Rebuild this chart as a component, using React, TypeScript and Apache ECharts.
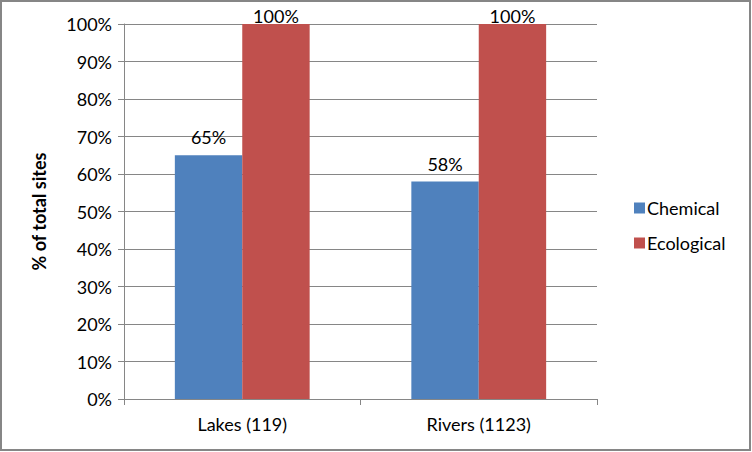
import React, { useEffect, useRef } from "react";
import * as echarts from "echarts";

const categories = ["Lakes (119)", "Rivers (1123)"];
const chemical = [65, 58];
const ecological = [100, 100];
const seriesNames = ["Chemical", "Ecological"];
const yTicks = [0, 10, 20, 30, 40, 50, 60, 70, 80, 90, 100];

const FONT = "Lato";
const FS = 18;

export default function App() {
  const ref = useRef<HTMLDivElement>(null);
  useEffect(() => {
    document.body.style.margin = "0";
    const chart = echarts.init(ref.current!, null, { renderer: "svg" });
    const labelStyle = {
      show: true,
      position: "top" as const,
      formatter: "{c}%",
      color: "#000",
      fontFamily: FONT,
      fontSize: FS,
      distance: 9,
    };
    chart.setOption({
      animation: false,
      backgroundColor: "#fff",
      textStyle: { fontFamily: FONT },
      grid: { left: 124, right: 155, top: 24, bottom: 53 },
      legend: {
        orient: "vertical",
        left: 629,
        top: 194,
        itemWidth: 11,
        itemHeight: 11,
        itemGap: 17,
        icon: "rect",
        data: seriesNames,
        textStyle: { fontFamily: FONT, fontSize: FS, color: "#000", padding: [0, 0, 0, -3] },
      },
      xAxis: {
        type: "category",
        data: categories,
        axisLine: { lineStyle: { color: "#868686", width: 1 } },
        axisTick: { show: true, length: 6, lineStyle: { color: "#868686" } },
        axisLabel: { fontFamily: FONT, fontSize: FS, color: "#000", margin: 16 },
      },
      yAxis: {
        type: "value",
        min: 0,
        max: 100,
        interval: 10,
        name: "% of total sites",
        nameLocation: "middle",
        nameGap: 76,
        nameTextStyle: { fontFamily: FONT, fontSize: FS, fontWeight: "bold", color: "#000" },
        axisLine: { show: true, lineStyle: { color: "#868686" } },
        axisTick: { show: true, length: 6, lineStyle: { color: "#868686" } },
        splitLine: { lineStyle: { color: "#868686" } },
        axisLabel: {
          fontFamily: FONT,
          fontSize: FS,
          color: "#000",
          margin: 12,
          formatter: (v: number) => (yTicks.includes(v) ? v + "%" : ""),
        },
      },
      series: [
        {
          name: seriesNames[0],
          type: "bar",
          data: chemical,
          itemStyle: { color: "#4F81BD" },
          barGap: "0%",
          barCategoryGap: "43%",
          label: labelStyle,
        },
        {
          name: seriesNames[1],
          type: "bar",
          data: ecological,
          itemStyle: { color: "#C0504D" },
          label: { ...labelStyle, distance: -1 },
        },
      ],
      graphic: [
        {
          type: "rect",
          shape: { x: 1, y: 1, width: 749, height: 449 },
          style: { fill: "none", stroke: "#868686", lineWidth: 2 },
          silent: true,
          z: 100,
        },
      ],
    });
    return () => chart.dispose();
  }, []);
  return <div ref={ref} style={{ width: 752, height: 452 }} />;
}
